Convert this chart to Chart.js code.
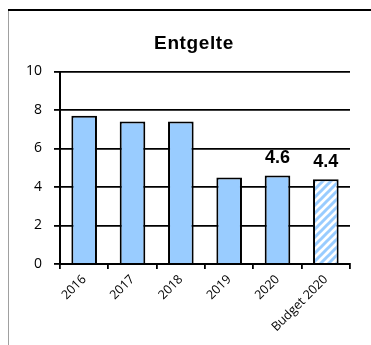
<!DOCTYPE html>
<html>
<head>
<meta charset="utf-8">
<script src="https://cdn.jsdelivr.net/npm/chart.js@4.4.0/dist/chart.umd.min.js"></script>
<style>
  html, body { margin: 0; padding: 0; background: #fff; }
  canvas { display: block; }
</style>
</head>
<body>
<canvas id="chart" width="371" height="345"></canvas>
<script>
// --- Data ---
const chartTitle = 'Entgelte';
const categories = ['2016', '2017', '2018', '2019', '2020', 'Budget 2020'];
const values = [7.7, 7.4, 7.4, 4.5, 4.6, 4.4];
const yTicks = [0, 2, 4, 6, 8, 10];
const labeledBars = [4, 5];   // bars that get a value label
const budgetBars = [5];       // hatched bars

// diagonal stripes for the budget bar
function stripePattern() {
    const c = document.createElement('canvas');
    c.width = 8; c.height = 8;
    const g = c.getContext('2d');
    g.fillStyle = '#ffffff';
    g.fillRect(0, 0, 8, 8);
    g.strokeStyle = '#99ccff';
    g.lineWidth = 3;
    g.beginPath();
    g.moveTo(-2, 10); g.lineTo(10, -2);
    g.moveTo(-2, 2); g.lineTo(2, -2);
    g.moveTo(6, 10); g.lineTo(10, 6);
    g.stroke();
    return g.createPattern(c, 'repeat');
}
const hatch = stripePattern();

// white background, frame lines and the title
const framePlugin = {
    id: 'frame',
    beforeDraw(chart) {
        const ctx = chart.ctx;
        ctx.save();
        ctx.fillStyle = '#fff';
        ctx.fillRect(0, 0, chart.width, chart.height);
        ctx.strokeStyle = '#a0a0a0';
        ctx.lineWidth = 1;
        ctx.beginPath();
        ctx.moveTo(8.5, 10); ctx.lineTo(8.5, chart.height);
        ctx.stroke();
        ctx.strokeStyle = '#000';
        ctx.lineWidth = 2;
        ctx.beginPath();
        ctx.moveTo(8, 10); ctx.lineTo(chart.width, 10);
        ctx.stroke();

        ctx.font = 'bold 19px "Liberation Sans", Arial, sans-serif';
        ctx.letterSpacing = '0.6px';
        ctx.fillStyle = '#000';
        ctx.textAlign = 'center';
        ctx.textBaseline = 'alphabetic';
        ctx.fillText(chartTitle, 194, 49);
        ctx.restore();
    }
};

// value labels above selected bars
const valueLabelPlugin = {
    id: 'valueLabels',
    afterDatasetsDraw(chart) {
        const ctx = chart.ctx;
        const meta = chart.getDatasetMeta(0);
        ctx.save();
        ctx.font = 'bold 18px "Liberation Sans", Arial, sans-serif';
        ctx.fillStyle = '#000';
        ctx.textAlign = 'center';
        ctx.textBaseline = 'alphabetic';
        labeledBars.forEach(i => {
            const bar = meta.data[i];
            ctx.fillText(values[i].toFixed(1), bar.x, bar.y - 12);
        });
        ctx.restore();
    }
};

new Chart(document.getElementById('chart'), {
    type: 'bar',
    data: {
        labels: categories,
        datasets: [{
            data: values,
            backgroundColor: values.map((v, i) => budgetBars.includes(i) ? hatch : '#99ccff'),
            borderColor: '#000',
            borderWidth: 2,
            borderSkipped: 'bottom',
            barPercentage: 0.53,
            categoryPercentage: 1
        }]
    },
    options: {
        responsive: false,
        animation: false,
        layout: { padding: { left: 10, right: 21, top: 71.5, bottom: 0 } },
        plugins: {
            legend: { display: false },
            tooltip: { enabled: false },
            title: { display: false }
        },
        scales: {
            y: {
                min: 0,
                max: 10,
                afterBuildTicks: s => { s.ticks = yTicks.map(v => ({ value: v })); },
                afterFit: s => { s.width = 50; },
                ticks: { color: '#000', padding: 12, font: { family: '"Open Sans", sans-serif', size: 14 } },
                grid: { color: '#000', lineWidth: 1.8, tickLength: 6 },
                border: { color: '#000', width: 2 }
            },
            x: {
                afterFit: s => { s.height = 81; },
                ticks: {
                    color: '#000', padding: 3, maxRotation: 45, minRotation: 45,
                    font: { family: '"Open Sans", sans-serif', size: 12.5 }
                },
                grid: { drawOnChartArea: false, color: '#000', lineWidth: 1.8, tickLength: 5 },
                border: { color: '#000', width: 2 }
            }
        }
    },
    plugins: [framePlugin, valueLabelPlugin]
});
</script>
</body>
</html>
